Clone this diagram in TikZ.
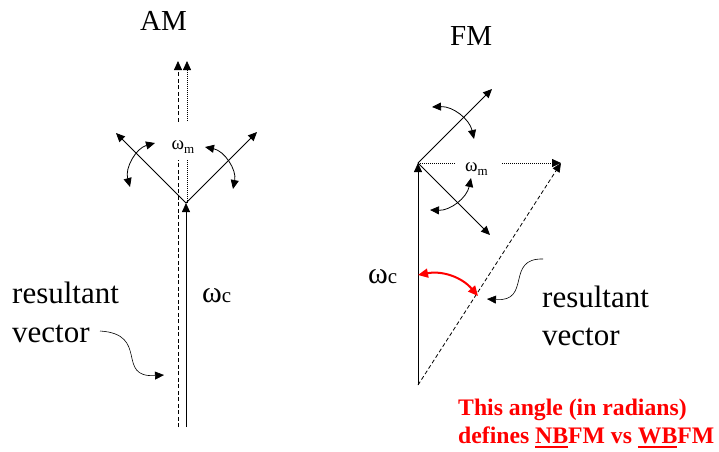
\documentclass[tikz,border=0pt]{standalone}
\usepackage{fontspec}
\setmainfont{Liberation Serif}
\usetikzlibrary{arrows.meta}
\newcommand\myul[1]{\setbox0\hbox{#1}\rlap{\rule[-5pt]{\wd0}{2.2pt}}\box0}
\begin{document}
\begin{tikzpicture}[x=1pt,y=-1pt,
  tip/.style={-{Triangle[length=9pt,width=8pt]}},
  dtip/.style={{Triangle[length=9pt,width=8pt]}-{Triangle[length=9pt,width=8pt]}},
  vec/.style={line width=0.8pt,tip},
  rot/.style={line width=0.8pt,dtip},
  dashline/.style={line width=0.8pt,dash pattern=on 4pt off 2.5pt},
  dotline/.style={line width=0.8pt,dash pattern=on 1pt off 1pt},
  big/.style={font=\fontsize{31}{36}\selectfont,inner sep=0pt},
  ttl/.style={font=\fontsize{29}{34}\selectfont,inner sep=0pt},
  lbl/.style={inner sep=0pt},
  redtxt/.style={font=\fontsize{23.7}{28}\selectfont\bfseries,text=red,inner sep=0pt}]
\useasboundingbox (0,0) rectangle (719,451);

% ---------------- AM ----------------
\node[ttl,anchor=base west] (amt) at (140,30) {AM};
\coordinate (aApex) at (186,203);
\coordinate (aBot) at (186,427);
\coordinate (dBot) at (178,427);
\coordinate (dTop) at (178,61);
\coordinate (pBot) at (187,203);
\coordinate (pTop) at (187,61);
\draw[dashline,tip] (dBot) -- (dTop);
\draw[dotline,tip] (pBot) -- (pTop);
\node[lbl,fill=white,minimum width=24pt,minimum height=38pt] (awm) at (183,141) {};
\node[lbl] (awmt) at (183,147) {\fontsize{19}{20}\selectfont ω\raisebox{-4pt}{\fontsize{13}{14}\selectfont m}};
\draw[vec] (aBot) -- (aApex);
\coordinate (aL) at (116,133);
\coordinate (aR) at (257,132);
\draw[vec] (aApex) -- (aL);
\draw[vec] (aApex) -- (aR);
\coordinate (aLr1) at (155,143);
\coordinate (aLr2) at (130,187);
\coordinate (aRr1) at (205,147);
\coordinate (aRr2) at (233,189);
\draw[rot] (aLr1) to[bend right=45] (aLr2);
\draw[rot] (aRr1) to[bend left=45] (aRr2);
\node[lbl,anchor=base west] (awc) at (202,302) {\fontsize{30}{32}\selectfont ω\fontsize{21}{22}\selectfont c};
\node[big,anchor=base west] (ares1) at (12,303) {resultant};
\node[big,anchor=base west] (ares2) at (12,342) {vector};
\coordinate (aCa) at (100,331);
\coordinate (aCb) at (164,375);
\draw[line width=0.6pt,tip] (aCa) .. controls (150,334) and (115,378) .. (aCb);

% ---------------- FM ----------------
\node[ttl,anchor=base west] (fmt) at (450,45) {FM};
\coordinate (fApex) at (418,163);
\coordinate (fBot) at (418,385);
\coordinate (fEnd) at (561,163);
\draw[dotline,tip] (fApex) -- (fEnd);
\draw[dashline,tip] (fBot) -- (fEnd);
\node[lbl,fill=white,minimum width=47pt,minimum height=16pt] (fwm) at (478,164) {};
\node[lbl,anchor=base west] (fwmt) at (465,171) {\fontsize{19}{20}\selectfont ω\raisebox{-4pt}{\fontsize{13}{14}\selectfont m}};
\draw[vec] (fBot) -- (fApex);
\coordinate (fU) at (492,89);
\coordinate (fD) at (490,235);
\draw[vec] (fApex) -- (fU);
\draw[vec] (fApex) -- (fD);
\coordinate (fUr1) at (432,107);
\coordinate (fUr2) at (474,139);
\coordinate (fDr1) at (471,178);
\coordinate (fDr2) at (430,210);
\draw[rot] (fUr1) to[bend left=40] (fUr2);
\draw[rot] (fDr1) to[bend left=40] (fDr2);
\node[lbl,anchor=base west] (fwc) at (368,283) {\fontsize{30}{32}\selectfont ω\fontsize{21}{22}\selectfont c};
\coordinate (rA) at (418,275);
\coordinate (rB) at (478,296);
\draw[red,line width=2pt,{Triangle[length=10pt,width=9pt]}-{Triangle[length=10pt,width=9pt]}] (rA) to[bend left=30] (rB);
\node[big,anchor=base west] (fres1) at (542,307) {resultant};
\node[big,anchor=base west] (fres2) at (542,345) {vector};
\coordinate (fCa) at (543,259);
\coordinate (fCb) at (487,299);
\draw[line width=0.6pt,tip] (fCa) .. controls (505,258) and (532,302) .. (fCb);
\node[redtxt,anchor=base west] (note1) at (458,415) {This angle (in radians)};
\node[redtxt,anchor=base west] (note2) at (458,443) {defines \myul{NB}FM vs \myul{WB}FM};
\end{tikzpicture}
\end{document}
